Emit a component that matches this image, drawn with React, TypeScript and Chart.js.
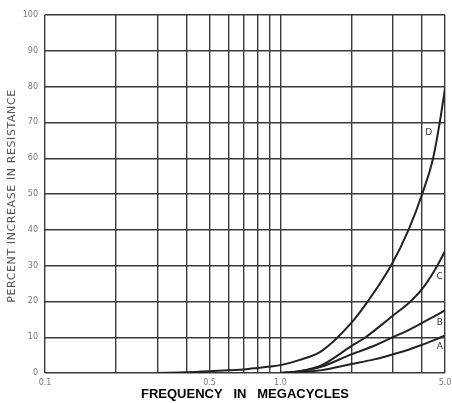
import React, { useEffect, useRef } from "react";
import { Chart, registerables } from "chart.js";

Chart.register(...registerables);

const gridFreqs = [0.1, 0.2, 0.3, 0.4, 0.5, 0.6, 0.7, 0.8, 0.9, 1.0, 2.0, 3.0, 4.0, 5.0];
const labeledFreqs = [0.1, 0.5, 1.0, 5.0];
const yTicks = [0, 10, 20, 30, 40, 50, 60, 70, 80, 90, 100];

const freqD = [0.3, 0.4, 0.5, 0.6, 0.7, 0.8, 0.9, 1.0, 1.2, 1.5, 2.0, 2.35, 2.95, 3.5, 4.0, 4.45, 4.75, 5.0];
const valD = [0, 0.2, 0.5, 0.8, 1.0, 1.4, 1.8, 2.2, 3.6, 6.2, 14, 20, 30, 40, 50, 60, 70, 79.5];

const freqC = [1.0, 1.2, 1.5, 2.0, 2.3, 3.0, 3.5, 4.0, 4.5, 5.0];
const valC = [0, 0.5, 2.2, 7.5, 10, 16, 19.5, 23.5, 28.5, 34];

const freqB = [1.0, 1.2, 1.5, 2.0, 2.5, 3.0, 3.5, 4.0, 4.5, 5.0];
const valB = [0, 0.4, 1.8, 5.2, 7.6, 10, 12, 14, 15.8, 17.5];

const freqA = [1.0, 1.2, 1.5, 2.0, 2.5, 3.0, 3.5, 4.0, 4.5, 5.0];
const valA = [0, 0.2, 0.8, 2.5, 3.8, 5.2, 6.5, 7.9, 9.2, 10.5];

const curveNames = ["A", "B", "C", "D"];
const labelFreqs = [4.75, 4.75, 4.75, 4.26];
const labelVals = [7.3, 14, 27, 67];

const xTitle = "FREQUENCY   IN   MEGACYCLES";
const yTitle = "PERCENT INCREASE IN RESISTANCE";

const toPoints = (xs: number[], ys: number[]) => xs.map((x, i) => ({ x, y: ys[i] }));

const textPlugin = {
  id: "annotText",
  afterDraw(chart: any) {
    const ctx = chart.ctx;
    const xs = chart.scales.x;
    const ys = chart.scales.y;
    const area = chart.chartArea;
    ctx.save();
    ctx.fillStyle = "#333";
    ctx.font = "9px 'DejaVu Sans'";
    ctx.textAlign = "center";
    ctx.textBaseline = "middle";
    curveNames.forEach((n, i) => {
      ctx.fillText(n, xs.getPixelForValue(labelFreqs[i]), ys.getPixelForValue(labelVals[i]));
    });
    ctx.fillStyle = "#000";
    ctx.font = "bold 13px 'Liberation Sans'";
    ctx.fillText(xTitle, (area.left + area.right) / 2, 394);
    ctx.translate(12, (area.top + area.bottom) / 2 + 2);
    ctx.rotate(-Math.PI / 2);
    ctx.fillStyle = "#555";
    ctx.font = "11px 'DejaVu Sans'";
    try { (ctx as any).letterSpacing = "0.6px"; } catch (e) {}
    ctx.fillText(yTitle, 0, 0);
    ctx.restore();
  },
};

export default function App() {
  const ref = useRef<HTMLCanvasElement>(null);
  useEffect(() => {
    if (!ref.current) return;
    const lineStyle = {
      borderColor: "#222",
      borderWidth: 2,
      pointRadius: 0,
      fill: false,
      cubicInterpolationMode: "monotone" as const,
    };
    const chart = new Chart(ref.current, {
      type: "line",
      data: {
        datasets: [
          { label: "A", data: toPoints(freqA, valA), ...lineStyle },
          { label: "B", data: toPoints(freqB, valB), ...lineStyle },
          { label: "C", data: toPoints(freqC, valC), ...lineStyle },
          { label: "D", data: toPoints(freqD, valD), ...lineStyle },
        ],
      },
      options: {
        animation: false,
        responsive: true,
        maintainAspectRatio: false,
        layout: { padding: { top: 15, right: 7, left: 0, bottom: 0 } },
        plugins: { legend: { display: false }, tooltip: { enabled: false } },
        scales: {
          x: {
            type: "logarithmic",
            min: 0.1,
            max: 5.0,
            afterBuildTicks: (scale: any) => {
              scale.ticks = gridFreqs.map((v) => ({ value: v }));
            },
            afterFit: (scale: any) => {
              scale.height = 30;
              scale.paddingRight = 0;
              scale.paddingLeft = 0;
            },
            ticks: {
              autoSkip: false,
              maxRotation: 0,
              padding: 5,
              color: "#777",
              font: { family: "'DejaVu Sans'", size: 8 },
              callback: (v: any) => (labeledFreqs.includes(Number(v)) ? Number(v).toFixed(1) : ""),
            },
            grid: { color: "#3a3a3a", lineWidth: 1.4, drawTicks: false },
            border: { display: false },
          },
          y: {
            type: "linear",
            min: 0,
            max: 100,
            afterBuildTicks: (scale: any) => {
              scale.ticks = yTicks.map((v) => ({ value: v }));
            },
            afterFit: (scale: any) => {
              scale.width = 45;
              scale.paddingTop = 0;
              scale.paddingBottom = 0;
            },
            ticks: {
              padding: 7,
              color: "#777",
              font: { family: "'DejaVu Sans'", size: 8 },
            },
            grid: { color: "#3a3a3a", lineWidth: 1.4, drawTicks: false },
            border: { display: false },
          },
        },
      },
      plugins: [textPlugin],
    });
    return () => chart.destroy();
  }, []);
  return (
    <div style={{ position: "fixed", left: 0, top: 0, width: 452, height: 403, background: "#fff" }}>
      <canvas ref={ref} />
    </div>
  );
}
